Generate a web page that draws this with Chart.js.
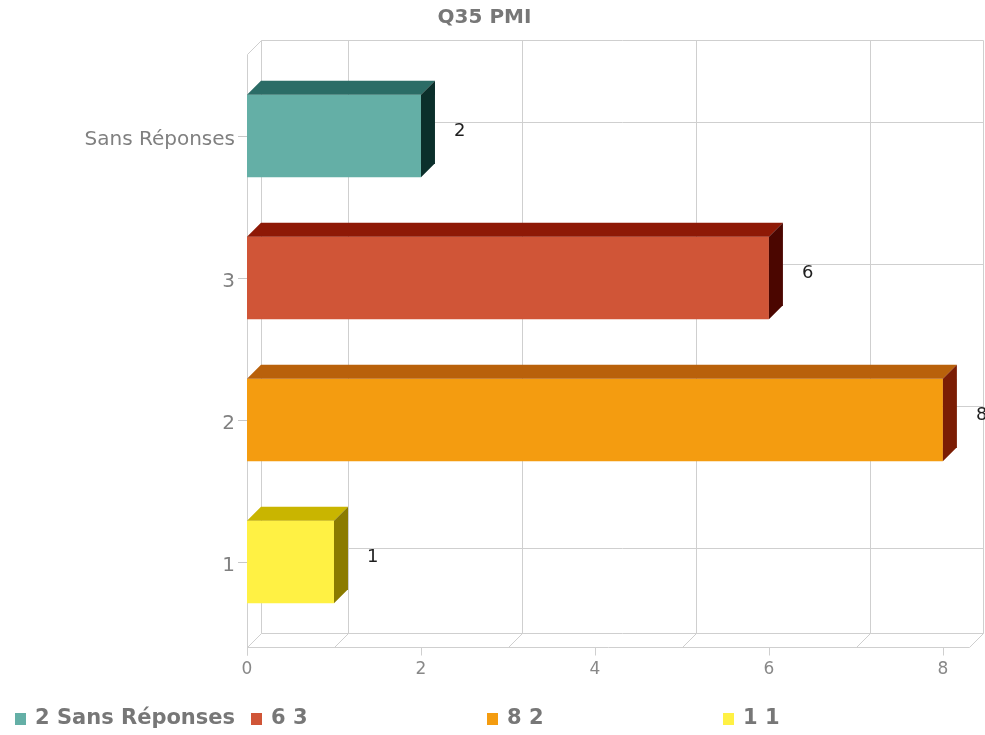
<!DOCTYPE html>
<html><head><meta charset="utf-8">
<script src="https://cdn.jsdelivr.net/npm/chart.js@4.4.0/dist/chart.umd.min.js"></script>
<style>html,body{margin:0;padding:0;background:#fff;}#wrap{width:985px;height:735px;}</style>
</head><body><div id="wrap"><canvas id="c" width="985" height="735"></canvas></div>
<script>
const chartTitle = 'Q35 PMI';
const categories = ['Sans Réponses', '3', '2', '1'];
const values = [2, 6, 8, 1];
const xTickValues = [0, 2, 4, 6, 8];
const gridValues = [1, 3, 5, 7];
const axisMax = 8.3;
const frontColors = ['#64AFA6', '#D05537', '#F49C10', '#FFF144'];
const topColors = ['#2B6C66', '#8E1906', '#B9610B', '#C9B500'];
const sideColors = ['#0B2F2B', '#4B0600', '#7B1D04', '#8B7B00'];
const legendLabels = values.map((v, i) => v + ' ' + categories[i]);

const DX = 14, DY = 14;
const GRID = '#cfcfcf';

function ln(ctx, x1, y1, x2, y2) { ctx.beginPath(); ctx.moveTo(x1 + 0.5, y1 + 0.5); ctx.lineTo(x2 + 0.5, y2 + 0.5); ctx.stroke(); }

const frame3d = {
  id: 'frame3d',
  beforeDatasetsDraw(chart) {
    const { ctx, chartArea: a, scales: { x, y } } = chart;
    const top = a.top - 11, bottom = a.bottom + 14;
    const x0 = Math.round(x.getPixelForValue(0)), xr = Math.round(a.right);
    ctx.save();
    ctx.strokeStyle = GRID; ctx.lineWidth = 1;
    ln(ctx, x0 + DX, top - DY, xr + DX, top - DY);
    ln(ctx, x0 + DX, bottom - DY, xr + DX, bottom - DY);
    ln(ctx, x0 + DX, top - DY, x0 + DX, bottom - DY);
    ln(ctx, xr + DX, top - DY, xr + DX, bottom - DY);
    ln(ctx, x0, top, x0, bottom + 8);
    ln(ctx, x0, bottom, xr, bottom);
    ln(ctx, x0, top, x0 + DX, top - DY);
    ln(ctx, x0, bottom, x0 + DX, bottom - DY);
    ln(ctx, xr, bottom, xr + DX, bottom - DY);
    gridValues.forEach(v => {
      const px = Math.round(x.getPixelForValue(v));
      ln(ctx, px + DX, top - DY, px + DX, bottom - DY);
      ln(ctx, px, bottom, px + DX, bottom - DY);
    });
    categories.forEach((c, i) => {
      const py = Math.round(y.getPixelForValue(i));
      ln(ctx, x0 + DX, py - DY, xr + DX, py - DY);
      ln(ctx, x0, py, x0 + DX, py - DY);
    });
    xTickValues.forEach(v => {
      const px = Math.round(x.getPixelForValue(v));
      ln(ctx, px, bottom, px, bottom + 8);
    });
    ctx.restore();
  },
  afterDatasetsDraw(chart) {
    const { ctx } = chart;
    const meta = chart.getDatasetMeta(0);
    ctx.save();
    meta.data.forEach((el, i) => {
      const p = el.getProps(['x', 'y', 'base', 'height'], true);
      const t = p.y - p.height / 2, b = p.y + p.height / 2;
      ctx.fillStyle = topColors[i];
      ctx.beginPath();
      ctx.moveTo(p.base, t); ctx.lineTo(p.x, t); ctx.lineTo(p.x + DX, t - DY); ctx.lineTo(p.base + DX, t - DY);
      ctx.closePath(); ctx.fill();
      ctx.fillStyle = sideColors[i];
      ctx.beginPath();
      ctx.moveTo(p.x, t); ctx.lineTo(p.x + DX, t - DY); ctx.lineTo(p.x + DX, b - DY); ctx.lineTo(p.x, b);
      ctx.closePath(); ctx.fill();
      ctx.fillStyle = '#1e1e1e';
      ctx.font = '18px "DejaVu Sans"';
      ctx.textAlign = 'left'; ctx.textBaseline = 'middle';
      ctx.fillText(String(values[i]), p.x + 33, p.y - 5);
    });
    ctx.restore();
  },
  afterDraw(chart) {
    const { ctx } = chart;
    ctx.save();
    ctx.font = 'bold 21px "DejaVu Sans"';
    ctx.textAlign = 'left'; ctx.textBaseline = 'middle';
    legendLabels.forEach((t, i) => {
      const lx = 15 + i * 236;
      ctx.fillStyle = frontColors[i];
      ctx.fillRect(lx, 713, 11, 12);
      ctx.fillStyle = '#777';
      ctx.fillText(t, lx + 20, 719);
    });
    ctx.restore();
  }
};

new Chart(document.getElementById('c'), {
  type: 'bar',
  data: {
    labels: categories,
    datasets: [{ data: values, backgroundColor: frontColors, borderWidth: 0, categoryPercentage: 1, barPercentage: 0.58 }]
  },
  options: {
    indexAxis: 'y',
    responsive: false,
    animation: false,
    layout: { padding: { top: 0, right: 16, bottom: 56, left: 0 } },
    plugins: {
      legend: { display: false },
      tooltip: { enabled: false },
      title: { display: true, text: chartTitle, color: '#777', font: { size: 20, weight: 'bold', family: 'DejaVu Sans' }, padding: { top: 6, bottom: 35 } }
    },
    scales: {
      x: {
        min: 0, max: axisMax,
        afterBuildTicks: s => { s.ticks = xTickValues.map(v => ({ value: v })); },
        grid: { display: false, drawTicks: false },
        border: { display: false },
        ticks: { padding: 26, color: '#888', font: { size: 17, family: 'DejaVu Sans' } },
        afterFit: s => { s.height = 46; }
      },
      y: {
        grid: { display: true, drawOnChartArea: false, drawTicks: true, tickLength: 9, offset: false, color: '#c8c8c8' },
        border: { display: false },
        ticks: { padding: 3, labelOffset: 4, color: '#808080', font: { size: 20, family: 'DejaVu Sans' } },
        afterFit: s => { s.width = 247; }
      }
    }
  },
  plugins: [frame3d]
});
</script></body></html>
